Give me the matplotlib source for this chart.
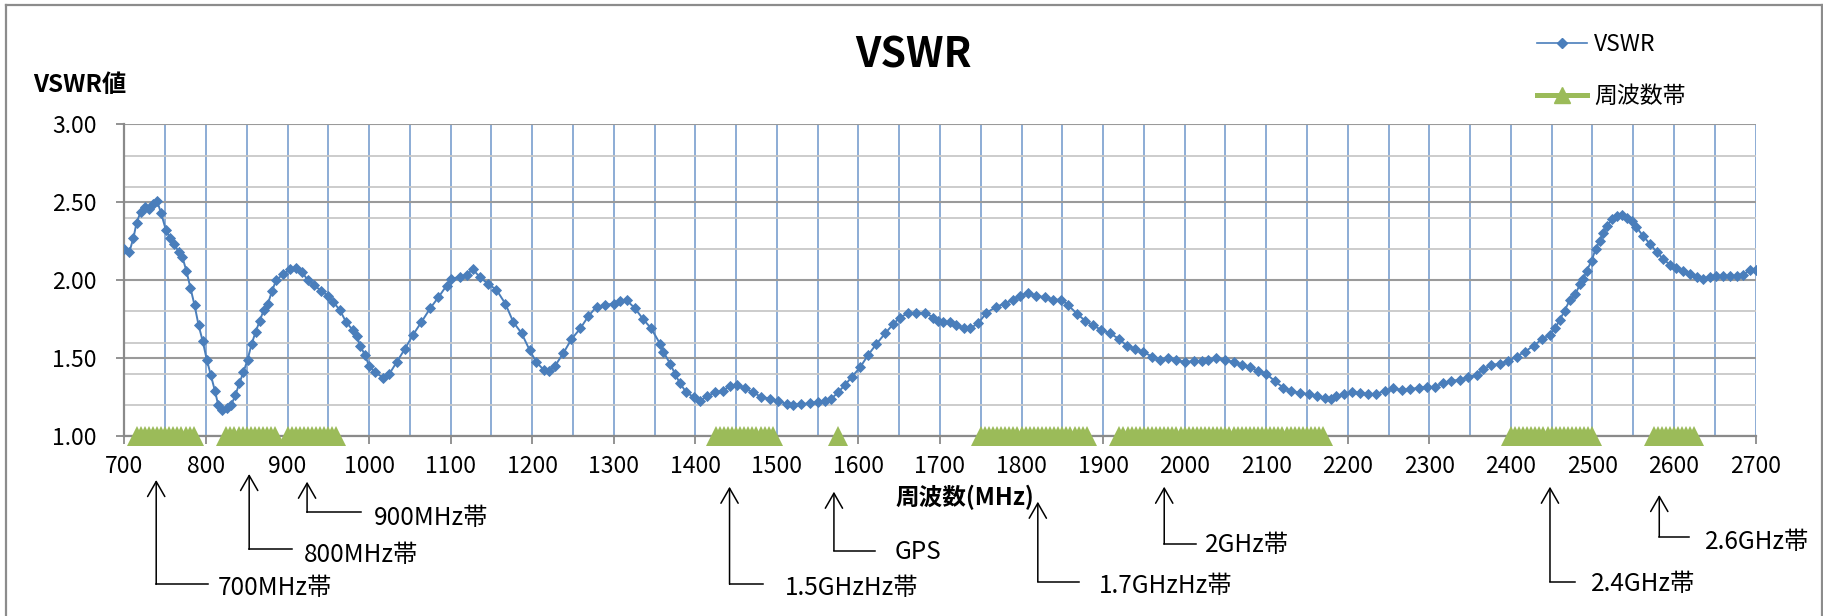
import numpy as np
import matplotlib
matplotlib.use("Agg")
import matplotlib.pyplot as plt
from matplotlib.ticker import MultipleLocator, FormatStrFormatter
from matplotlib.lines import Line2D
from matplotlib.patches import FancyArrowPatch

plt.rcParams['font.family'] = ['Noto Sans CJK JP', 'DejaVu Sans']

# ---------------- data ----------------
freq_mhz = [700, 706, 711, 715, 720, 725, 730, 735, 740, 745, 751, 756, 761, 767, 771, 776, 781, 786, 791, 796,
            801, 806, 811, 815, 820, 826, 831, 836, 841, 846, 851, 856, 861, 866, 871, 876, 881, 886, 895, 903,
            911, 918, 925, 933, 941, 950, 956, 964, 972, 980, 985, 989, 995, 1000, 1007, 1017, 1025, 1034, 1044, 1054,
            1064, 1075, 1085, 1095, 1101, 1111, 1120, 1127, 1136, 1146, 1156, 1167, 1177, 1187, 1197, 1205, 1214, 1221, 1228, 1238,
            1248, 1259, 1269, 1279, 1289, 1300, 1308, 1316, 1326, 1336, 1346, 1357, 1361, 1369, 1375, 1381, 1389, 1398, 1406, 1414,
            1424, 1434, 1442, 1451, 1461, 1471, 1481, 1492, 1502, 1512, 1520, 1530, 1541, 1551, 1559, 1567, 1575, 1584, 1592, 1602,
            1612, 1622, 1633, 1643, 1651, 1661, 1671, 1682, 1692, 1698, 1704, 1712, 1720, 1729, 1737, 1747, 1757, 1769, 1780, 1790,
            1798, 1808, 1818, 1829, 1839, 1849, 1857, 1868, 1878, 1888, 1898, 1908, 1919, 1929, 1939, 1949, 1960, 1970, 1980, 1990,
            2000, 2011, 2021, 2029, 2039, 2050, 2060, 2070, 2080, 2090, 2100, 2111, 2121, 2131, 2141, 2152, 2162, 2172, 2179, 2186,
            2195, 2205, 2215, 2225, 2235, 2246, 2256, 2266, 2276, 2287, 2297, 2307, 2317, 2327, 2338, 2348, 2358, 2366, 2376, 2387,
            2397, 2407, 2417, 2428, 2438, 2448, 2454, 2460, 2466, 2472, 2479, 2485, 2489, 2493, 2499, 2504, 2509, 2513, 2518, 2524,
            2530, 2536, 2542, 2548, 2554, 2562, 2571, 2579, 2587, 2595, 2603, 2611, 2620, 2628, 2636, 2644, 2652, 2660, 2669, 2677,
            2685, 2693, 2700]
vswr = [2.20, 2.18, 2.27, 2.37, 2.44, 2.47, 2.46, 2.49, 2.51, 2.43, 2.32, 2.27, 2.23, 2.18, 2.15, 2.06, 1.95, 1.84, 1.71, 1.61,
        1.49, 1.39, 1.29, 1.20, 1.17, 1.18, 1.20, 1.26, 1.34, 1.41, 1.49, 1.59, 1.67, 1.74, 1.81, 1.85, 1.93, 2.00, 2.04, 2.07,
        2.08, 2.05, 2.00, 1.97, 1.93, 1.90, 1.86, 1.81, 1.73, 1.68, 1.64, 1.58, 1.52, 1.45, 1.41, 1.375, 1.40, 1.475, 1.56, 1.65,
        1.73, 1.82, 1.89, 1.965, 2.01, 2.02, 2.035, 2.07, 2.02, 1.975, 1.94, 1.85, 1.73, 1.66, 1.55, 1.475, 1.425, 1.42, 1.45, 1.53,
        1.62, 1.69, 1.77, 1.83, 1.84, 1.85, 1.865, 1.87, 1.82, 1.75, 1.69, 1.59, 1.54, 1.465, 1.40, 1.34, 1.28, 1.25, 1.225, 1.255,
        1.28, 1.29, 1.32, 1.33, 1.305, 1.28, 1.25, 1.24, 1.225, 1.205, 1.20, 1.205, 1.21, 1.22, 1.225, 1.24, 1.28, 1.33, 1.38, 1.44,
        1.52, 1.59, 1.66, 1.72, 1.76, 1.79, 1.79, 1.79, 1.76, 1.74, 1.73, 1.73, 1.71, 1.69, 1.69, 1.725, 1.79, 1.83, 1.85, 1.875,
        1.90, 1.92, 1.90, 1.89, 1.875, 1.875, 1.84, 1.785, 1.74, 1.71, 1.68, 1.66, 1.625, 1.58, 1.56, 1.54, 1.51, 1.49, 1.50, 1.485,
        1.475, 1.48, 1.48, 1.485, 1.50, 1.485, 1.475, 1.455, 1.44, 1.42, 1.40, 1.35, 1.31, 1.29, 1.275, 1.27, 1.255, 1.245, 1.24, 1.255,
        1.27, 1.285, 1.275, 1.27, 1.27, 1.29, 1.305, 1.295, 1.30, 1.31, 1.315, 1.315, 1.34, 1.355, 1.36, 1.38, 1.39, 1.43, 1.455, 1.465,
        1.48, 1.51, 1.54, 1.58, 1.62, 1.65, 1.69, 1.745, 1.805, 1.87, 1.91, 1.975, 2.01, 2.06, 2.125, 2.20, 2.25, 2.30, 2.35, 2.39,
        2.41, 2.42, 2.40, 2.38, 2.34, 2.285, 2.23, 2.18, 2.135, 2.10, 2.08, 2.06, 2.04, 2.02, 2.01, 2.02, 2.03, 2.025, 2.025, 2.025,
        2.035, 2.065, 2.065]

# frequency bands (MHz) drawn as the "周波数帯" series at VSWR = 1.00
band_start = [715, 825, 900, 1425, 1575, 1750, 1920, 2400, 2575]
band_end   = [785, 885, 960, 1495, 1575, 1880, 2170, 2500, 2625]
band_step = 5
band_level = 1.0

x_ticks = list(range(700, 2701, 100))
y_ticks = [1.00, 1.50, 2.00, 2.50, 3.00]

annot_labels = ['700MHz帯', '800MHz帯', '900MHz帯', '1.5GHzHz帯', 'GPS', '1.7GHzHz帯', '2GHz帯', '2.4GHz帯', '2.6GHz帯']
annot_freq = [739, 853, 924, 1442, 1570, 1820, 1975, 2448, 2582]

title = 'VSWR'
y_label = 'VSWR値'
x_label = '周波数(MHz)'
legend_labels = ['VSWR', '周波数帯']

# ---------------- layout ----------------
W, H = 1823, 616
BLUE = '#4A7EBB'
GRID_BLUE = '#6E96CA'
GREEN = '#9BBB59'
GRAY = '#8A8A8A'

def fx(px):
    return px / W

def fy(py):
    return 1 - py / H

fig = plt.figure(figsize=(W / 100, H / 100), dpi=100)
ax = fig.add_axes([fx(124.4), fy(436), fx(1755.5) - fx(124.4), fy(124.4) - fy(436)])

ax.set_xlim(700, 2700)
ax.set_ylim(1, 3)
ax.set_xticks(x_ticks)
ax.xaxis.set_minor_locator(MultipleLocator(50))
ax.set_yticks(y_ticks)
ax.yaxis.set_minor_locator(MultipleLocator(0.2))
ax.yaxis.set_major_formatter(FormatStrFormatter('%.2f'))
ax.set_axisbelow(True)

ax.grid(which='minor', axis='y', color='#C8C8C8', lw=1.3)
ax.grid(which='major', axis='y', color='#9A9A9A', lw=1.5)
ax.grid(which='both', axis='x', color=GRID_BLUE, lw=1.1)

ax.tick_params(axis='x', which='major', length=5.8, width=1.3, color=GRAY, pad=8, labelsize=16.5)
ax.tick_params(axis='y', which='major', length=5.8, width=1.3, color=GRAY, pad=14, labelsize=16.5)
ax.tick_params(which='minor', length=0)
for s in ['top', 'right']:
    ax.spines[s].set_visible(False)
for s in ['left', 'bottom']:
    ax.spines[s].set_color(GRAY)
    ax.spines[s].set_linewidth(1.6)

# VSWR curve
ax.plot(freq_mhz, vswr, color=BLUE, lw=1.4, marker='D', ms=5.0, mfc=BLUE, mec=BLUE, mew=0.6, zorder=3)

# band series
for s, e in zip(band_start, band_end):
    bx = np.arange(s, e + 1, band_step)
    ax.plot(bx, np.full(len(bx), band_level), color=GREEN, lw=3.5, marker='^', ms=14,
            mfc=GREEN, mec=GREEN, mew=0, zorder=4, clip_on=False)

# texts
fig.text(fx(913), fy(68), title, ha='center', va='baseline', fontsize=29.5, fontweight='bold')
fig.text(fx(33.6), fy(92), y_label, ha='left', va='baseline', fontsize=17.5, fontweight='bold')
fig.text(fx(964.8), fy(505), x_label, ha='center', va='baseline', fontsize=17, fontweight='bold')

# legend
h1 = Line2D([], [], color=BLUE, lw=1.2, marker='D', ms=5, mfc=BLUE, mec=BLUE)
h2 = Line2D([], [], color=GREEN, lw=3.6, marker='^', ms=11, mfc=GREEN, mec=GREEN)
fig.legend([h1, h2], legend_labels, loc='upper left', bbox_to_anchor=(fx(1537), fy(33)),
           frameon=False, borderpad=0, borderaxespad=0, handlelength=2.2, handletextpad=0.3,
           labelspacing=1.25, fontsize=16.5)

# annotations (tip y, corner y, line end x, text x, text baseline y) in figure pixels
annot_layout = [
    (480, 584.3, 207.6, 217.5, 595),
    (474, 549.3, 291.8, 303.7, 561.7),
    (481.7, 512.3, 360.6, 373.7, 525),
    (486.7, 584.3, 763.3, 785, 595),
    (491.7, 550.7, 874.8, 894.6, 559.3),
    (501.7, 581.7, 1079.2, 1099, 592.7),
    (486.7, 544, 1196.3, 1204.8, 551.7),
    (486.7, 581.7, 1575.4, 1591.3, 590.7),
    (495, 536.7, 1688.7, 1704.6, 549),
]
inv = fig.transFigure.inverted()
for lab, f, (tip_y, cy, end_x, tx, ty) in zip(annot_labels, annot_freq, annot_layout):
    xf = inv.transform(ax.transData.transform((f, 1.0)))[0]
    arr = FancyArrowPatch(posA=(xf, fy(cy)), posB=(xf, fy(tip_y)), transform=fig.transFigure,
                          arrowstyle='->,head_length=1.08,head_width=0.62', mutation_scale=10,
                          lw=1.1, color='black', shrinkA=0, shrinkB=0)
    fig.add_artist(arr)
    fig.add_artist(Line2D([xf, fx(end_x)], [fy(cy), fy(cy)], transform=fig.transFigure, lw=1.1, color='black'))
    fig.text(fx(tx), fy(ty), lab, ha='left', va='baseline', fontsize=17.5)

# chart border
for xs, ys in [([6, 1821.5], [5, 5]), ([6, 6], [5, 616]), ([1821.5, 1821.5], [5, 616])]:
    fig.add_artist(Line2D([fx(v) for v in xs], [fy(v) for v in ys], transform=fig.transFigure,
                          lw=1.6, color='#8C8C8C'))

fig.savefig('out.png', dpi=100)
